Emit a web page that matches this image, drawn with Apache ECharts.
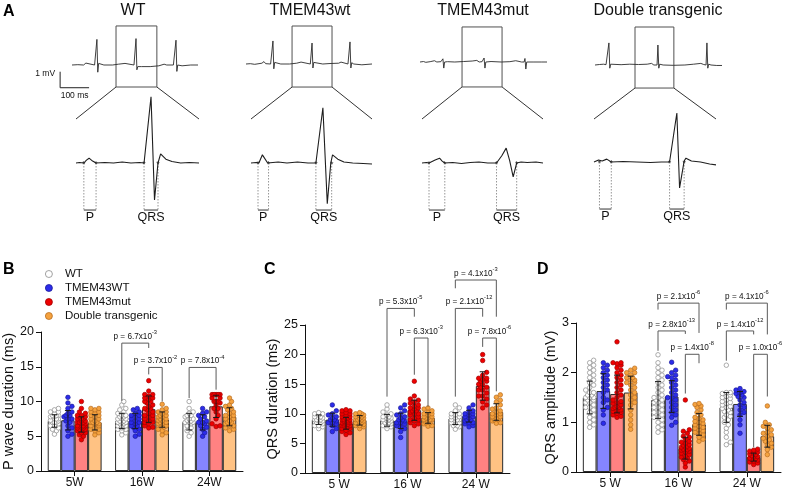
<!DOCTYPE html>
<html><head><meta charset="utf-8">
<script src="https://cdn.jsdelivr.net/npm/echarts@6/dist/echarts.min.js"></script>
<style>html,body{margin:0;padding:0;background:#fff}#c{width:785px;height:493px}</style>
</head><body><div id="c"></div><script>
const FONT = '"Liberation Sans", Arial, sans-serif';

// ---------------- Panel A: ECG traces, [time ms, voltage mV] ----------------
const ecgTitles = ['WT', 'TMEM43wt', 'TMEM43mut', 'Double transgenic'];
const ecgTop_WT = [[0,0],[20,0.02],[40,0],[48,0.12],[54,0],[78,0],[82,-0.05],[86,1.6],[89,-0.45],[92,0.1],[96,0.05],[110,0],[140,0],[160,0.05],[183,0.1],[188,0],[214,0],[218,-0.05],[221,1.65],[224,-0.3],[227,-0.1],[240,-0.1],[270,-0.1],[300,-0.05],[318,0.05],[322,0.1],[327,0],[350,0],[355,-0.05],[359,1.55],[362,-0.4],[365,0],[380,-0.05],[410,0],[435,0]];
const ecgTop_TMEM43wt = [[0,0],[15,0.02],[30,-0.02],[55,0.05],[62,0.15],[68,0.02],[85,0],[89,-0.05],[93,1.44],[96,-0.3],[99,0.1],[104,0.05],[120,0],[150,0],[175,0.05],[190,0.12],[196,0],[222,0],[225,-0.05],[228,1.31],[231,-0.25],[234,0.1],[240,0.02],[265,0],[290,0.03],[320,0.05],[328,0.12],[334,0],[352,0],[355,-0.05],[359,1.38],[362,-0.25],[365,0.08],[372,0],[400,-0.05],[435,0]];
const ecgTop_TMEM43mut = [[0,0],[12,0.03],[20,-0.02],[35,0.02],[50,0.08],[58,0],[72,0.02],[76,0],[79,0.2],[82,-0.38],[85,0],[95,0.02],[120,0],[150,0.03],[180,0.06],[196,0.1],[204,0],[214,0.02],[218,0],[221,0.25],[224,-0.38],[227,0],[245,0.03],[280,0],[310,0.02],[330,0.08],[338,0.05],[350,0],[359,0],[362,0.22],[365,-0.44],[368,0],[390,0],[420,0],[438,0]];
const ecgTop_Double = [[0,0],[15,0.03],[30,0.05],[38,0.02],[44,0],[48,1.38],[51,-0.2],[54,0.05],[60,0],[90,0.02],[120,0.05],[150,0.03],[180,0.05],[195,0.1],[203,0],[214,0],[217,1.25],[220,-0.2],[223,0.05],[235,0],[270,-0.02],[310,0],[340,0.05],[365,0.1],[375,0.03],[383,0],[386,1.38],[389,-0.2],[392,0.05],[400,0],[420,-0.03],[438,-0.03]];

const ecgZoom_WT = [[152,0],[156,0.01],[161,0],[164,0.06],[167,0.1],[171,0.04],[175,0],[185,0.01],[195,0],[205,0.02],[215,0],[225,0.01],[230,0],[238,1.38],[242,-0.77],[246,0],[249,0.19],[255,0.08],[262,0.03],[272,0],[282,0.01],[293,0]];
const ecgZoom_TMEM43wt = [[159,0],[165,0.01],[168,0],[172,0.17],[178,0],[190,0.02],[200,0],[212,0.02],[224,0],[233,0],[241,1.15],[246,-0.85],[250,0],[252,0.17],[258,0.08],[265,0.02],[275,0],[287,-0.01],[297,-0.02]];
const ecgZoom_TMEM43mut = [[145,0],[150,0.01],[153,0],[160,0.06],[165,0.1],[168,0.04],[171,0],[180,0.01],[190,-0.01],[200,0.01],[210,0.02],[220,0],[230,0],[236,0.15],[241,0.31],[245,0.05],[249,-0.29],[253,0],[258,0.02],[265,0.01],[275,0.02],[283,0]];
const ecgZoom_Double = [[138,0],[143,0.04],[147,0.02],[152,0.06],[157,0],[170,0.01],[185,0],[200,-0.01],[212,0],[221,0],[229,1.02],[232,-0.54],[237,0.02],[239,0.08],[245,0.02],[255,0],[265,-0.04],[272,-0.06]];

// zoom box in each strip: [start ms, end ms, top mV, bottom mV]
const ecgBox = [[152,293,2.44,-1.375],[159,297,2.375,-1.44],[145,283,2.19,-1.56],[138,272,2.375,-1.44]];
const pInterval   = [[161,175],[167,179],[153,171],[144,157]];
const qrsInterval = [[230,246],[233,251],[230,253],[221,237]];
const intervalLabels = ['P', 'QRS'];
const scaleBar = { ms: 100, mV: 1, at: [-41, -1.42] };

// ---------------- Panels B-D ----------------
const groups = ['WT', 'TMEM43WT', 'TMEM43mut', 'Double transgenic'];
const agesB = ['5W', '16W', '24W'];
const agesCD = ['5 W', '16 W', '24 W'];

// P wave duration (ms)
const pwave_WT = [
 [5.3,5.8,6.0,6.2,6.5,6.5,6.8,7.0,7.0,7.0,7.2,7.3,7.5,7.5,7.5,7.8,7.8,8.0,8.0,8.0,8.2,8.5,8.5,8.8,9.0],
 [5.2,5.5,5.8,6.0,6.0,6.2,6.3,6.5,6.5,6.5,6.8,6.8,7.0,7.0,7.0,7.2,7.2,7.5,7.5,7.5,7.8,7.8,8.0,8.0,8.3,8.5,8.8,9.0,9.5,10.0],
 [5.0,5.5,5.8,6.2,6.5,6.8,7.0,7.0,7.0,7.2,7.3,7.5,7.5,7.8,8.0,8.0,8.3,8.5,9.0,10.0]];
const pwave_TMEM43WT = [
 [5.0,5.3,5.8,6.2,6.5,7.0,7.2,7.5,7.5,7.8,8.0,8.0,8.3,8.5,9.0,9.3,9.8,10.6],
 [5.0,5.3,5.8,6.0,6.3,6.5,6.5,6.8,7.0,7.0,7.2,7.5,7.5,7.8,8.0,8.0,8.3,8.5,8.8,9.0],
 [5.0,5.5,6.0,6.3,6.5,6.8,7.0,7.0,7.2,7.5,7.8,8.0,8.3,8.5,9.0]];
const pwave_TMEM43mut = [
 [4.5,5.0,5.2,5.5,5.5,5.8,5.8,6.0,6.0,6.0,6.2,6.2,6.3,6.5,6.5,6.5,6.5,6.8,6.8,7.0,7.0,7.0,7.2,7.2,7.5,7.5,7.5,7.8,7.8,8.0,8.0,8.3,8.5,9.0,10.0],
 [6.2,6.3,6.5,6.8,7.0,7.0,7.2,7.5,7.5,7.8,8.0,8.0,8.3,8.5,8.8,9.0,9.0,9.3,9.5,9.8,10.0,10.0,10.3,10.5,10.5,10.8,11.0,11.0,11.5,13.0],
 [6.4,6.5,6.8,7.5,8.0,8.5,9.0,9.0,9.5,9.8,10.0,10.0,10.0,10.5,10.5,11.0,11.0,11.0,11.0,11.0]];
const pwave_Double = [
 [5.2,5.5,5.8,6.0,6.0,6.2,6.5,6.5,6.8,6.8,7.0,7.0,7.0,7.2,7.5,7.5,7.8,8.0,8.0,8.3,8.5,8.5,8.8,9.0,9.0],
 [5.2,5.5,5.8,6.0,6.3,6.5,6.5,6.8,6.8,7.0,7.0,7.2,7.3,7.5,7.5,7.8,7.8,8.0,8.0,8.2,8.5,8.5,8.8,9.0,9.6],
 [5.8,6.0,6.2,6.5,6.5,6.8,7.0,7.0,7.2,7.5,7.5,7.8,8.0,8.0,8.3,8.5,8.8,9.0,9.3,9.5,10.0,10.5]];
const pwaveMean = [[7.2,7.2,7.1],[7.3,7.2,7.0],[6.7,8.9,9.3],[7.0,7.4,7.8]];
const pwaveSD   = [[0.9,1.1,1.2],[1.4,1.1,1.1],[1.1,1.9,1.6],[1.1,1.1,1.3]];
// [age index, group A, group B, bracket height, leg A end, leg B end, mantissa, exponent]
const pwaveStats = [
 [1,0,2,18.4,10.1,17.7,'6.7','-3'],
 [1,2,3,14.9,13.9,10.0,'3.7','-2'],
 [2,0,2,14.9,10.5,11.7,'7.8','-4']];

// QRS duration (ms)
const qrsd_WT = [
 [7.5,7.8,8.0,8.0,8.3,8.5,8.5,8.8,8.8,9.0,9.0,9.0,9.3,9.3,9.5,9.5,9.8,10.0,10.0,10.2],
 [7.5,7.8,8.0,8.0,8.3,8.5,8.5,8.8,8.8,9.0,9.0,9.2,9.3,9.5,9.5,9.8,10.0,10.3,10.8,11.5],
 [7.4,7.8,8.0,8.0,8.3,8.5,8.5,8.8,9.0,9.0,9.0,9.3,9.5,9.5,9.8,10.0,10.0,10.5,11.0,11.5]];
const qrsd_TMEM43WT = [
 [7.0,7.5,8.0,8.3,8.5,8.5,8.8,9.0,9.0,9.3,9.5,9.8,10.0,10.5,11.5],
 [6.0,7.0,7.5,7.8,8.0,8.3,8.5,8.5,8.8,9.0,9.0,9.3,9.5,9.8,10.0,10.5,11.0,11.5],
 [7.8,8.0,8.3,8.5,8.5,8.8,9.0,9.0,9.3,9.5,9.5,9.8,10.0,10.0,10.3,10.5,11.0,11.5]];
const qrsd_TMEM43mut = [
 [6.5,6.8,7.0,7.2,7.5,7.5,7.8,7.8,8.0,8.0,8.0,8.2,8.2,8.3,8.5,8.5,8.5,8.5,8.7,8.8,8.8,9.0,9.0,9.0,9.2,9.3,9.5,9.5,9.8,10.0,10.0,10.2,10.5,10.5,10.7],
 [8.0,8.3,8.5,8.8,9.0,9.0,9.3,9.5,9.8,10.0,10.0,10.3,10.5,10.5,10.8,11.0,11.0,11.3,11.5,11.8,12.0,12.3,12.5,13.0,15.5],
 [11.0,11.5,12.0,12.5,13.0,13.0,13.5,14.0,14.0,14.5,14.5,15.0,15.0,15.5,15.5,15.8,16.0,16.0,16.5,17.0,19.0,20.0]];
const qrsd_Double = [
 [7.5,7.8,8.0,8.0,8.2,8.3,8.5,8.5,8.7,8.8,9.0,9.0,9.0,9.2,9.3,9.5,9.5,9.7,9.8,10.0,10.0,10.2],
 [7.9,8.0,8.3,8.5,8.5,8.8,9.0,9.0,9.0,9.3,9.3,9.5,9.5,9.8,10.0,10.0,10.3,10.5,10.8,11.0],
 [8.4,8.5,8.8,9.0,9.0,9.3,9.5,9.5,9.8,10.0,10.0,10.3,10.5,10.8,11.0,11.5,12.0,12.3,12.8,13.2]];
const qrsdMean = [[9.0,8.9,9.2],[9.0,8.8,9.6],[8.4,10.6,14.7],[8.9,9.3,10.3]];
const qrsdSD   = [[0.8,1.0,1.0],[1.1,1.3,1.0],[1.0,1.7,2.4],[0.8,0.9,1.4]];
const qrsdStats = [
 [1,0,2,27.8,12.9,26.4,'5.3','-5'],
 [1,2,3,22.8,16.6,11.2,'6.3','-3'],
 [2,0,3,32.6,31.2,26.4,'4.1','-3'],
 [2,0,2,27.8,12.9,26.4,'2.1','-12'],
 [2,2,3,22.8,21.3,13.8,'7.8','-6']];

// QRS amplitude (mV)
const qrsa_WT = [
 [0.9,0.95,1.0,1.05,1.1,1.15,1.2,1.25,1.3,1.3,1.35,1.4,1.4,1.45,1.45,1.5,1.5,1.5,1.55,1.55,1.6,1.6,1.65,1.7,1.75,1.8,1.85,1.9,1.95,2.0,2.05,2.1,2.15,2.2,2.25],
 [0.8,0.85,0.9,0.95,1.0,1.05,1.1,1.1,1.15,1.2,1.2,1.25,1.3,1.3,1.35,1.4,1.4,1.45,1.45,1.5,1.5,1.55,1.6,1.65,1.7,1.75,1.8,1.85,1.9,1.95,2.0,2.05,2.1,2.2,2.36],
 [0.55,0.6,0.7,0.8,0.88,0.95,1.0,1.05,1.1,1.12,1.15,1.2,1.22,1.25,1.28,1.3,1.32,1.35,1.38,1.4,1.42,1.45,1.48,1.5,1.52,1.55,1.58,1.6,1.6,2.15]];
const qrsa_TMEM43WT = [
 [0.98,1.15,1.25,1.3,1.4,1.45,1.5,1.6,1.65,1.7,1.75,1.8,1.85,1.9,1.95,2.0,2.05,2.1,2.15,2.2],
 [0.94,1.0,1.1,1.15,1.2,1.25,1.3,1.35,1.4,1.45,1.5,1.5,1.55,1.6,1.65,1.7,1.75,1.8,1.85,1.9,1.92,1.95,2.0,2.05,2.21],
 [0.78,0.95,1.05,1.15,1.2,1.25,1.3,1.35,1.4,1.45,1.5,1.52,1.55,1.58,1.6,1.62,1.65,1.68]];
const qrsa_TMEM43mut = [
 [1.1,1.12,1.15,1.18,1.2,1.22,1.25,1.25,1.28,1.3,1.3,1.32,1.35,1.38,1.4,1.42,1.45,1.5,1.55,1.6,1.65,1.7,1.75,1.8,1.85,1.9,1.95,2.0,2.05,2.1,2.15,2.18,2.2,2.2,2.62],
 [0.1,0.18,0.22,0.25,0.28,0.3,0.32,0.35,0.38,0.4,0.42,0.44,0.45,0.46,0.48,0.5,0.5,0.52,0.54,0.55,0.58,0.6,0.62,0.65,0.7,0.72,0.78,0.82,0.85,1.45],
 [0.15,0.18,0.2,0.22,0.24,0.25,0.27,0.28,0.3,0.31,0.33,0.35,0.36,0.38,0.4,0.42,0.44,0.46]];
const qrsa_Double = [
 [0.86,0.95,1.05,1.15,1.25,1.35,1.4,1.45,1.5,1.55,1.6,1.65,1.7,1.75,1.8,1.8,1.85,1.85,1.9,1.9,1.95,2.0,2.0,2.05,2.09],
 [0.62,0.66,0.7,0.75,0.78,0.8,0.83,0.85,0.88,0.9,0.92,0.95,0.98,1.0,1.02,1.05,1.08,1.1,1.15,1.2,1.25,1.3,1.33,1.36,1.38],
 [0.35,0.45,0.5,0.55,0.58,0.62,0.65,0.68,0.72,0.75,0.78,0.8,0.85,0.88,0.92,0.95,1.0,1.33]];
const qrsaMean = [[1.5,1.45,1.3],[1.63,1.52,1.37],[1.57,0.48,0.3],[1.6,0.96,0.72]];
const qrsaSD   = [[0.33,0.37,0.3],[0.35,0.32,0.25],[0.38,0.22,0.08],[0.33,0.22,0.22]];
const qrsaStats = [
 [1,0,3,3.40,3.27,2.80,'2.1','-6'],
 [1,0,2,2.84,2.44,2.78,'2.8','-13'],
 [1,2,3,2.37,1.58,2.19,'1.4','-8'],
 [2,0,3,3.40,3.27,2.77,'4.1','-6'],
 [2,0,2,2.84,2.24,2.77,'1.4','-12'],
 [2,2,3,2.37,0.50,1.52,'1.0','-6']];

// ---------------- styles / layout ----------------
const barFill = ['#ffffff', '#8585ff', '#ff8282', '#ffc283'];
const dotFill = ['#ffffff', '#2c2cea', '#ee0000', '#f5a23f'];
const dotEdge = ['#8a8a8a', '#1a1a99', '#a00000', '#b86d20'];

const ecgTopData = [ecgTop_WT, ecgTop_TMEM43wt, ecgTop_TMEM43mut, ecgTop_Double];
const ecgZoomData = [ecgZoom_WT, ecgZoom_TMEM43wt, ecgZoom_TMEM43mut, ecgZoom_Double];
const topLayout = [{left:72,width:126,base:65,xmax:435},{left:246,width:126,base:64,xmax:435},{left:420,width:127,base:62,xmax:438},{left:595,width:127,base:65,xmax:438}];
const zoomLayout = [{left:76,width:123,base:163},{left:251,width:121,base:163},{left:422,width:121,base:163},{left:594,width:122,base:162}];
const titleX = [133, 310, 483, 658];
const flareY = 119;

const panels = [
  {ages: agesB, dots:[pwave_WT,pwave_TMEM43WT,pwave_TMEM43mut,pwave_Double], mean: pwaveMean, sd: pwaveSD, stats: pwaveStats,
   max:20, interval:5, name:'P wave duration (ms)', grid:{left:41, top:332, width:202, height:139}, nameGap:21},
  {ages: agesCD, dots:[qrsd_WT,qrsd_TMEM43WT,qrsd_TMEM43mut,qrsd_Double], mean: qrsdMean, sd: qrsdSD, stats: qrsdStats,
   max:25, interval:5, name:'QRS duration (ms)', grid:{left:305, top:325, width:205, height:148}, nameGap:24},
  {ages: agesCD, dots:[qrsa_WT,qrsa_TMEM43WT,qrsa_TMEM43mut,qrsa_Double], mean: qrsaMean, sd: qrsaSD, stats: qrsaStats,
   max:3, interval:1, name:'QRS amplitude (mV)', grid:{left:576, top:323, width:205, height:149}, nameGap:18}
];

const grids = [], xAxes = [], yAxes = [], series = [];

// ECG grids
topLayout.forEach((L, c) => {
  grids.push({left:L.left, top:L.base - 40, width:L.width, height:72, outerBoundsMode:'none'});
  xAxes.push({type:'value', gridIndex:c, min:0, max:L.xmax, show:false});
  yAxes.push({type:'value', gridIndex:c, min:-2, max:2.5, show:false});
});
zoomLayout.forEach((L, c) => {
  grids.push({left:L.left, top:L.base - 76.8, width:L.width, height:134.4, outerBoundsMode:'none'});
  xAxes.push({type:'value', gridIndex:4 + c, min:ecgBox[c][0], max:ecgBox[c][1], show:false});
  yAxes.push({type:'value', gridIndex:4 + c, min:-1.2, max:1.6, show:false});
});
for (let c = 0; c < 4; c++) {
  const b = ecgBox[c];
  series.push({type:'line', xAxisIndex:c, yAxisIndex:c, data:ecgTopData[c], showSymbol:false, silent:true,
    lineStyle:{color:'#2a2a2a', width:0.9}, animation:false,
    markArea:{silent:true, itemStyle:{color:'rgba(0,0,0,0)', borderColor:'#505050', borderWidth:1},
      data:[[{coord:[b[0], b[2]]}, {coord:[b[1], b[3]]}]]}});
  series.push({type:'line', xAxisIndex:4 + c, yAxisIndex:4 + c, data:ecgZoomData[c], showSymbol:false, silent:true,
    lineStyle:{color:'#1e1e1e', width:1.1}, animation:false, z:3});
  const ivals = [pInterval[c], qrsInterval[c]];
  series.push({type:'custom', xAxisIndex:4 + c, yAxisIndex:4 + c, clip:false, silent:true, z:2,
    data: ivals.map(v => [v[0], v[1]]), encode:{x:0, y:1},
    renderItem: (params, api) => {
      const s = api.value(0), e = api.value(1);
      const p0 = api.coord([s, 0]), p1 = api.coord([e, 0]);
      const yb = api.coord([s, -0.98])[1];
      const dotted = {stroke:'#8a8a8a', lineWidth:0.9, lineDash:[1.5, 1.5]};
      return {type:'group', children:[
        {type:'line', shape:{x1:p0[0], y1:p0[1], x2:p0[0], y2:yb}, style:dotted},
        {type:'line', shape:{x1:p1[0], y1:p1[1], x2:p1[0], y2:yb}, style:dotted},
        {type:'line', shape:{x1:p0[0], y1:yb, x2:p1[0], y2:yb}, style:{stroke:'#333', lineWidth:1}},
        {type:'text', x:(p0[0] + p1[0]) / 2, y:yb + 1.5, style:{text:intervalLabels[params.dataIndex], align:'center', verticalAlign:'top', font:'12.5px ' + FONT, fill:'#111'}},
        {type:'text', x:p0[0], y:p0[1] + 1.5, style:{text:'*', align:'center', verticalAlign:'middle', font:'9px ' + FONT, fill:'#333'}},
        {type:'text', x:p1[0], y:p1[1] + 1.5, style:{text:'*', align:'center', verticalAlign:'middle', font:'9px ' + FONT, fill:'#333'}}
      ]};
    }});
}
// scale bar on WT strip
series.push({type:'custom', xAxisIndex:0, yAxisIndex:0, clip:false, silent:true,
  data:[[scaleBar.at[0], scaleBar.at[1]]], encode:{x:0, y:1},
  renderItem: (params, api) => {
    const x = api.value(0), y = api.value(1);
    const p0 = api.coord([x, y]), pv = api.coord([x, y + scaleBar.mV]), ph = api.coord([x + scaleBar.ms, y]);
    return {type:'group', children:[
      {type:'line', shape:{x1:p0[0], y1:p0[1], x2:pv[0], y2:pv[1]}, style:{stroke:'#222', lineWidth:1}},
      {type:'line', shape:{x1:p0[0], y1:p0[1], x2:ph[0], y2:ph[1]}, style:{stroke:'#222', lineWidth:1}},
      {type:'text', x:p0[0] - 5, y:pv[1] + 2, style:{text:scaleBar.mV + ' mV', align:'right', verticalAlign:'middle', font:'8.5px ' + FONT, fill:'#111'}},
      {type:'text', x:(p0[0] + ph[0]) / 2, y:p0[1] + 3, style:{text:scaleBar.ms + ' ms', align:'center', verticalAlign:'top', font:'8.5px ' + FONT, fill:'#111'}}
    ]};
  }});

// bar panels
function barCenter(api, t, g) {
  const band = api.size([1, 0])[0];
  const bw = band * 0.8 / 4;
  return [api.coord([t, 0])[0] + (g - 1.5) * bw, bw];
}
panels.forEach((P, k) => {
  const gi = 8 + k;
  grids.push(Object.assign({outerBoundsMode:'none'}, P.grid));
  xAxes.push({type:'category', gridIndex:gi, data:P.ages, boundaryGap:true,
    axisLine:{lineStyle:{color:'#111', width:1}},
    axisTick:{show:true, alignWithLabel:true, length:5, lineStyle:{color:'#111'}},
    axisLabel:{color:'#111', fontSize:12, fontFamily:FONT, margin:6}});
  yAxes.push({type:'value', gridIndex:gi, min:0, max:P.max, interval:P.interval,
    name:P.name, nameLocation:'middle', nameGap:P.nameGap, nameRotate:90,
    nameTextStyle:{fontSize:14.5, fontFamily:FONT, color:'#111'},
    axisLine:{show:true, lineStyle:{color:'#111', width:1}},
    axisTick:{show:true, length:5, lineStyle:{color:'#111'}},
    splitLine:{show:false},
    axisLabel:{color:'#111', fontSize:12.5, fontFamily:FONT, margin:7}});
  groups.forEach((gname, g) => {
    series.push({type:'bar', name:gname, xAxisIndex:gi, yAxisIndex:gi, data:P.mean[g],
      barGap:'0%', barCategoryGap:'20%', silent:true, z:1,
      itemStyle:{color:barFill[g], borderColor:'#2b2b2b', borderWidth:1}});
  });
  groups.forEach((gname, g) => {
    const dots = P.dots[g];
    series.push({type:'custom', xAxisIndex:gi, yAxisIndex:gi, silent:true, clip:false, z:3,
      data:P.mean[g].map((m, t) => [t, m]), encode:{x:0, y:1},
      renderItem: (params, api) => {
        const t = api.value(0);
        const [cx, bw] = barCenter(api, t, g);
        const vals = dots[t].slice().sort((a, b) => a - b);
        const r = 2.25, dmin = 2 * r * 0.85, step = 2.0, maxOff = bw * 0.3;
        const cands = [0];
        for (let i = 1; i <= 2; i++) { const o = Math.min(i * step, maxOff); cands.push(o, -o); }
        const placed = [], children = [];
        vals.forEach(v => {
          const py = api.coord([t, v])[1];
          let best = 0, bestD = -1;
          for (const off of cands) {
            let md = Infinity;
            for (const p of placed) { const dd = Math.hypot(p[0] - off, p[1] - py); if (dd < md) md = dd; }
            if (md >= dmin) { best = off; bestD = md; break; }
            if (md > bestD) { bestD = md; best = off; }
          }
          placed.push([best, py]);
          children.push({type:'circle', shape:{cx:cx + best, cy:py, r:r}, style:{fill:dotFill[g], stroke:dotEdge[g], lineWidth:0.7}});
        });
        return {type:'group', children};
      }});
  });
  // error bars (mean ± SD)
  const errData = [];
  for (let g = 0; g < 4; g++) for (let t = 0; t < 3; t++) errData.push([t, g, P.mean[g][t], P.sd[g][t]]);
  series.push({type:'custom', xAxisIndex:gi, yAxisIndex:gi, silent:true, clip:false, z:4,
    data:errData, encode:{x:0, y:2},
    renderItem: (params, api) => {
      const t = api.value(0), g = api.value(1), m = api.value(2), s = api.value(3);
      const [cx] = barCenter(api, t, g);
      const yt = api.coord([t, m + s])[1], yb = api.coord([t, Math.max(0, m - s)])[1];
      const st = {stroke:'#1a1a1a', lineWidth:1};
      return {type:'group', children:[
        {type:'line', shape:{x1:cx, y1:yt, x2:cx, y2:yb}, style:st},
        {type:'line', shape:{x1:cx - 3, y1:yt, x2:cx + 3, y2:yt}, style:st},
        {type:'line', shape:{x1:cx - 3, y1:yb, x2:cx + 3, y2:yb}, style:st}
      ]};
    }});
  // significance brackets
  series.push({type:'custom', xAxisIndex:gi, yAxisIndex:gi, silent:true, clip:false, z:5,
    data:P.stats.map(s => s.slice(0, 6)), encode:{x:0, y:3},
    renderItem: (params, api) => {
      const t = api.value(0), ga = api.value(1), gb = api.value(2);
      const h = api.value(3), la = api.value(4), lb = api.value(5);
      const xa = barCenter(api, t, ga)[0], xb = barCenter(api, t, gb)[0];
      const yh = api.coord([t, h])[1], ya = api.coord([t, la])[1], yb = api.coord([t, lb])[1];
      const st = P.stats[params.dataIndex];
      return {type:'group', children:[
        {type:'polyline', shape:{points:[[xa, ya], [xa, yh], [xb, yh], [xb, yb]]}, style:{stroke:'#5a5a5a', lineWidth:1, fill:null}},
        {type:'text', x:(xa + xb) / 2, y:yh - 2.5, style:{
          text:'{a|p = ' + st[6] + 'x10}{s|' + st[7] + '}', align:'center', verticalAlign:'bottom',
          rich:{a:{fontSize:8.2, fontFamily:FONT, fill:'#111', color:'#111', lineHeight:11, verticalAlign:'bottom'},
                s:{fontSize:5.7, fontFamily:FONT, fill:'#111', color:'#111', lineHeight:6, verticalAlign:'top'}}}}
      ]};
    }});
});

const chart = echarts.init(document.getElementById('c'), null, {renderer:'canvas'});
chart.setOption({
  animation:false,
  backgroundColor:'#fff',
  textStyle:{fontFamily:FONT},
  grid:grids, xAxis:xAxes, yAxis:yAxes, series:series,
  legend:{orient:'vertical', left:40, top:262, itemWidth:22, itemHeight:7, itemGap:0, icon:'circle', selectedMode:false,
    textStyle:{fontSize:11.5, fontFamily:FONT, color:'#111', lineHeight:14},
    data:groups.map((n, g) => ({name:n, itemStyle:{color:dotFill[g], borderColor:dotEdge[g], borderWidth:0.8}}))}
});

// annotation texts and flare lines (positions from the chart's own converters)
const gfx = [];
ecgTitles.forEach((t, c) => gfx.push({type:'text', x:titleX[c], y:11, style:{text:t, align:'center', verticalAlign:'middle', font:'16px ' + FONT, fill:'#111'}}));
[['A', 3, 4], ['B', 3, 262], ['C', 264, 262], ['D', 537, 262]].forEach(([t, x, y]) =>
  gfx.push({type:'text', x, y, style:{text:t, font:'bold 16px ' + FONT, fill:'#000'}}));
for (let c = 0; c < 4; c++) {
  const b = ecgBox[c];
  const bl = chart.convertToPixel({gridIndex:c}, [b[0], b[3]]);
  const br = chart.convertToPixel({gridIndex:c}, [b[1], b[3]]);
  const el = chart.convertToPixel({gridIndex:4 + c}, [b[0], 0]);
  const er = chart.convertToPixel({gridIndex:4 + c}, [b[1], 0]);
  gfx.push({type:'line', shape:{x1:bl[0], y1:bl[1], x2:el[0], y2:flareY}, style:{stroke:'#333', lineWidth:1}});
  gfx.push({type:'line', shape:{x1:br[0], y1:br[1], x2:er[0], y2:flareY}, style:{stroke:'#333', lineWidth:1}});
}
chart.setOption({graphic:gfx});
</script></body></html>
